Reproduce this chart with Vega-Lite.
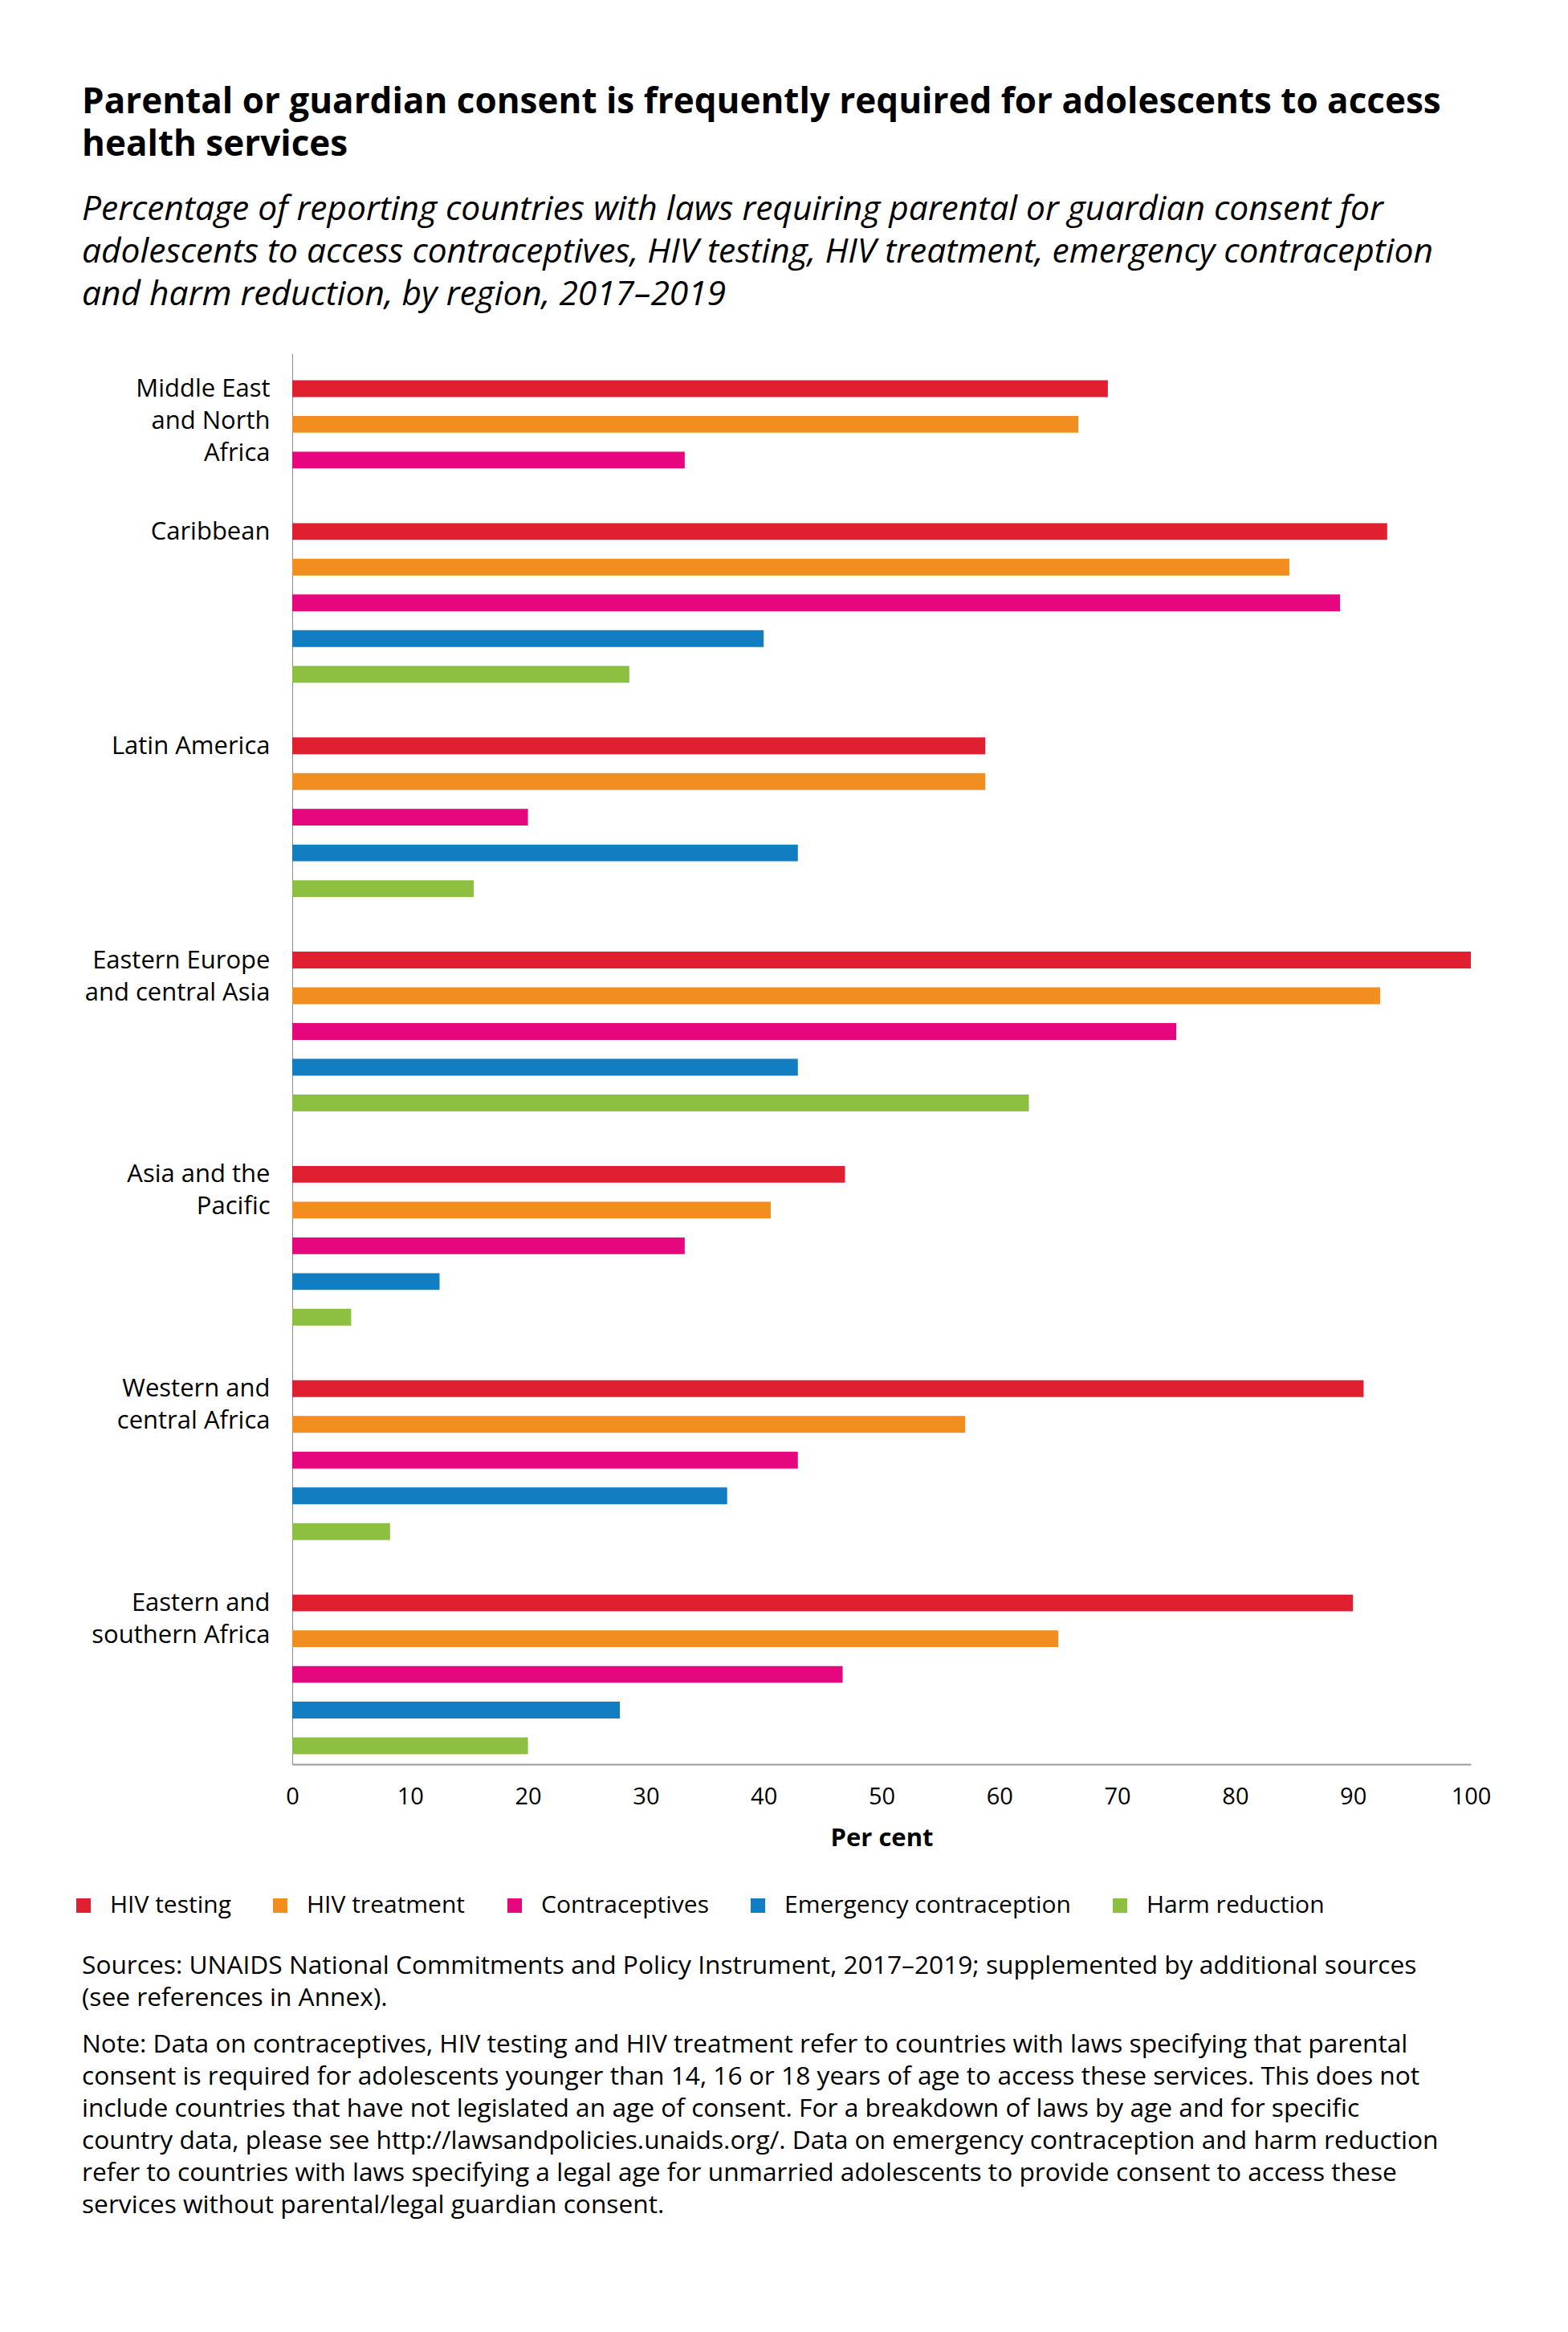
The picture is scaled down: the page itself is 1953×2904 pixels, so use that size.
{
  "$schema": "https://vega.github.io/schema/vega-lite/v6.json",
  "background": "white",
  "padding": {"left": 89, "top": 105, "right": 20, "bottom": 20},
  "title": {
    "text": ["Parental or guardian consent is frequently required for adolescents to access", "health services"],
    "subtitle": ["Percentage of reporting countries with laws requiring parental or guardian consent for", "adolescents to access contraceptives, HIV testing, HIV treatment, emergency contraception", "and harm reduction, by region, 2017–2019"],
    "anchor": "start",
    "frame": "bounds",
    "dx": 13,
    "fontSize": 44,
    "fontWeight": "bold",
    "lineHeight": 53,
    "color": "#000000",
    "subtitleFontSize": 42.5,
    "subtitleFontStyle": "italic",
    "subtitleLineHeight": 53,
    "subtitleColor": "#000000",
    "subtitlePadding": 37,
    "offset": 52
  },
  "spacing": 129,
  "vconcat": [
    {
      "width": 1468,
      "height": 1757,
      "data": {
        "values": [
          {"region": "Middle East and North Africa", "indicator": "HIV testing", "value": 69.2},
          {"region": "Middle East and North Africa", "indicator": "HIV treatment", "value": 66.7},
          {"region": "Middle East and North Africa", "indicator": "Contraceptives", "value": 33.3},
          {"region": "Caribbean", "indicator": "HIV testing", "value": 92.9},
          {"region": "Caribbean", "indicator": "HIV treatment", "value": 84.6},
          {"region": "Caribbean", "indicator": "Contraceptives", "value": 88.9},
          {"region": "Caribbean", "indicator": "Emergency contraception", "value": 40.0},
          {"region": "Caribbean", "indicator": "Harm reduction", "value": 28.6},
          {"region": "Latin America", "indicator": "HIV testing", "value": 58.8},
          {"region": "Latin America", "indicator": "HIV treatment", "value": 58.8},
          {"region": "Latin America", "indicator": "Contraceptives", "value": 20.0},
          {"region": "Latin America", "indicator": "Emergency contraception", "value": 42.9},
          {"region": "Latin America", "indicator": "Harm reduction", "value": 15.4},
          {"region": "Eastern Europe and central Asia", "indicator": "HIV testing", "value": 100},
          {"region": "Eastern Europe and central Asia", "indicator": "HIV treatment", "value": 92.3},
          {"region": "Eastern Europe and central Asia", "indicator": "Contraceptives", "value": 75.0},
          {"region": "Eastern Europe and central Asia", "indicator": "Emergency contraception", "value": 42.9},
          {"region": "Eastern Europe and central Asia", "indicator": "Harm reduction", "value": 62.5},
          {"region": "Asia and the Pacific", "indicator": "HIV testing", "value": 46.9},
          {"region": "Asia and the Pacific", "indicator": "HIV treatment", "value": 40.6},
          {"region": "Asia and the Pacific", "indicator": "Contraceptives", "value": 33.3},
          {"region": "Asia and the Pacific", "indicator": "Emergency contraception", "value": 12.5},
          {"region": "Asia and the Pacific", "indicator": "Harm reduction", "value": 5.0},
          {"region": "Western and central Africa", "indicator": "HIV testing", "value": 90.9},
          {"region": "Western and central Africa", "indicator": "HIV treatment", "value": 57.1},
          {"region": "Western and central Africa", "indicator": "Contraceptives", "value": 42.9},
          {"region": "Western and central Africa", "indicator": "Emergency contraception", "value": 36.9},
          {"region": "Western and central Africa", "indicator": "Harm reduction", "value": 8.3},
          {"region": "Eastern and southern Africa", "indicator": "HIV testing", "value": 90.0},
          {"region": "Eastern and southern Africa", "indicator": "HIV treatment", "value": 65.0},
          {"region": "Eastern and southern Africa", "indicator": "Contraceptives", "value": 46.7},
          {"region": "Eastern and southern Africa", "indicator": "Emergency contraception", "value": 27.8},
          {"region": "Eastern and southern Africa", "indicator": "Harm reduction", "value": 20.0}
        ]
      },
      "transform": [
        {"calculate": "datum.region + '::' + datum.indicator", "as": "slot"}
      ],
      "mark": {"type": "bar"},
      "encoding": {
        "y": {
          "field": "slot",
          "type": "nominal",
          "scale": {
            "domain": [
              "Middle East and North Africa::HIV testing", "Middle East and North Africa::HIV treatment", "Middle East and North Africa::Contraceptives",
              "gap1",
              "Caribbean::HIV testing", "Caribbean::HIV treatment", "Caribbean::Contraceptives", "Caribbean::Emergency contraception", "Caribbean::Harm reduction",
              "gap2",
              "Latin America::HIV testing", "Latin America::HIV treatment", "Latin America::Contraceptives", "Latin America::Emergency contraception", "Latin America::Harm reduction",
              "gap3",
              "Eastern Europe and central Asia::HIV testing", "Eastern Europe and central Asia::HIV treatment", "Eastern Europe and central Asia::Contraceptives", "Eastern Europe and central Asia::Emergency contraception", "Eastern Europe and central Asia::Harm reduction",
              "gap4",
              "Asia and the Pacific::HIV testing", "Asia and the Pacific::HIV treatment", "Asia and the Pacific::Contraceptives", "Asia and the Pacific::Emergency contraception", "Asia and the Pacific::Harm reduction",
              "gap5",
              "Western and central Africa::HIV testing", "Western and central Africa::HIV treatment", "Western and central Africa::Contraceptives", "Western and central Africa::Emergency contraception", "Western and central Africa::Harm reduction",
              "gap6",
              "Eastern and southern Africa::HIV testing", "Eastern and southern Africa::HIV treatment", "Eastern and southern Africa::Contraceptives", "Eastern and southern Africa::Emergency contraception", "Eastern and southern Africa::Harm reduction"
            ],
            "paddingInner": 0.53,
            "paddingOuter": 0.517,
            "align": 0.728
          },
          "axis": {
            "title": null,
            "ticks": false,
            "tickSize": 0,
            "grid": false,
            "domainColor": "#8c8c8c",
            "domainWidth": 1,
            "labelFontSize": 31,
            "labelColor": "#000000",
            "labelLineHeight": 40,
            "labelBaseline": "top",
            "labelOffset": -14,
            "labelPadding": 28,
            "labelLimit": 0,
            "labelOverlap": false,
            "minExtent": 262,
            "maxExtent": 262,
            "labelExpr": "datum.value == 'Middle East and North Africa::HIV testing' ? ['Middle East', 'and North', 'Africa'] : datum.value == 'Eastern Europe and central Asia::HIV testing' ? ['Eastern Europe', 'and central Asia'] : datum.value == 'Asia and the Pacific::HIV testing' ? ['Asia and the', 'Pacific'] : datum.value == 'Western and central Africa::HIV testing' ? ['Western and', 'central Africa'] : datum.value == 'Eastern and southern Africa::HIV testing' ? ['Eastern and', 'southern Africa'] : indexof(datum.value, '::HIV testing') > 0 ? split(datum.value, '::')[0] : ''"
          }
        },
        "x": {
          "field": "value",
          "type": "quantitative",
          "scale": {"domain": [0, 100], "nice": false},
          "axis": {
            "title": "Per cent",
            "titleFontSize": 31,
            "titleFontWeight": "bold",
            "titleColor": "#000000",
            "titlePadding": 22,
            "values": [0, 10, 20, 30, 40, 50, 60, 70, 80, 90, 100],
            "ticks": false,
            "tickSize": 0,
            "grid": false,
            "domainColor": "#9a9a9a",
            "domainWidth": 2,
            "labelFontSize": 29,
            "labelColor": "#000000",
            "labelPadding": 26,
            "labelFlush": false
          }
        },
        "color": {
          "field": "indicator",
          "type": "nominal",
          "scale": {
            "domain": ["HIV testing", "HIV treatment", "Contraceptives", "Emergency contraception", "Harm reduction"],
            "range": ["#e01f30", "#f28e20", "#e6067e", "#137dc2", "#8dc041"]
          },
          "legend": {
            "title": null,
            "orient": "none",
            "legendX": -275,
            "legendY": 1918,
            "padding": 0,
            "direction": "horizontal",
            "columns": 5,
            "symbolType": "square",
            "symbolSize": 324,
            "symbolStrokeWidth": 0,
            "labelFontSize": 30,
            "labelColor": "#000000",
            "labelOffset": 18,
            "columnPadding": 46,
            "labelLimit": 0
          }
        }
      }
    },
    {
      "width": 1400,
      "height": 1,
      "title": {
        "text": ["Sources: UNAIDS National Commitments and Policy Instrument, 2017–2019; supplemented by additional sources", "(see references in Annex)."],
        "subtitle": [
          "Note: Data on contraceptives, HIV testing and HIV treatment refer to countries with laws specifying that parental",
          "consent is required for adolescents younger than 14, 16 or 18 years of age to access these services. This does not",
          "include countries that have not legislated an age of consent. For a breakdown of laws by age and for specific",
          "country data, please see http://lawsandpolicies.unaids.org/. Data on emergency contraception and harm reduction",
          "refer to countries with laws specifying a legal age for unmarried adolescents to provide consent to access these",
          "services without parental/legal guardian consent."
        ],
        "anchor": "start",
        "dx": -262,
        "fontSize": 31.7,
        "fontWeight": "normal",
        "lineHeight": 40,
        "color": "#000000",
        "subtitleFontSize": 31.7,
        "subtitleLineHeight": 40,
        "subtitleColor": "#000000",
        "subtitlePadding": 26,
        "offset": 0
      },
      "data": {"values": [{"note": ""}]},
      "mark": {"type": "text"},
      "encoding": {"text": {"field": "note", "type": "nominal"}}
    }
  ],
  "config": {
    "font": "Open Sans",
    "view": {"stroke": null}
  }
}
